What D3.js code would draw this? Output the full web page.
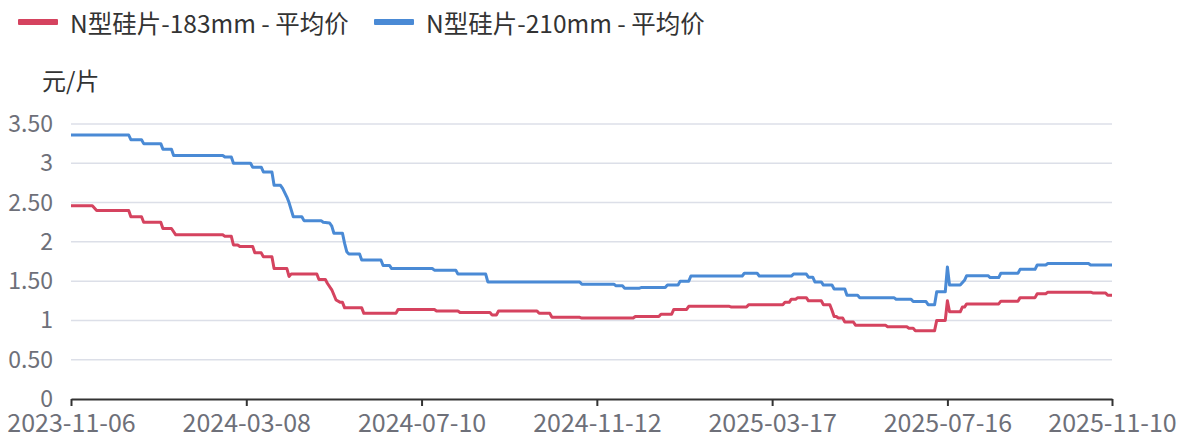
<!DOCTYPE html>
<html>
<head>
<meta charset="utf-8">
<script src="https://cdn.jsdelivr.net/npm/d3@7/dist/d3.min.js"></script>
<style>
  html, body { margin: 0; padding: 0; background: #fff; }
  svg text { font-family: "Noto Sans CJK SC", "Noto Sans", sans-serif; }
</style>
</head>
<body>
<svg id="chart" width="1186" height="441"></svg>
<script>
// ---- data ----
const seriesNames = ["N型硅片-183mm - 平均价", "N型硅片-210mm - 平均价"];
const seriesColors = ["#d5435f", "#4a8ad5"];
const yUnit = "元/片";
const lastIndex = 487;
const xTickIndex = [0, 82, 164, 246, 328, 410, 487];
const xTickLabels = ["2023-11-06", "2024-03-08", "2024-07-10", "2024-11-12", "2025-03-17", "2025-07-16", "2025-11-10"];
const yTickValues = [0, 0.5, 1, 1.5, 2, 2.5, 3, 3.5];
const yTickLabels = ["0", "0.50", "1", "1.50", "2", "2.50", "3", "3.50"];

// [trading-day index, price]
const price183 = [
  [0,2.46],[10,2.46],[12,2.40],[27,2.40],[28,2.32],[33,2.32],[34,2.25],[42,2.25],[43,2.17],[47,2.17],
  [49,2.09],[71,2.09],[72,2.07],[75,2.07],[76,1.96],[78,1.96],[79,1.94],[85,1.94],[86,1.86],[89,1.86],
  [90,1.81],[94,1.81],[95,1.66],[101,1.66],[102,1.56],[103,1.59],[115,1.59],[116,1.52],[119,1.52],[120,1.47],
  [122,1.39],[124,1.26],[126,1.23],[127,1.23],[128,1.16],[136,1.16],[137,1.09],[152,1.09],[153,1.14],[170,1.14],
  [171,1.12],[181,1.12],[182,1.10],[196,1.10],[197,1.07],[199,1.07],[200,1.12],[218,1.12],[219,1.09],[224,1.09],
  [225,1.04],[238,1.04],[239,1.03],[263,1.03],[264,1.05],[275,1.05],[276,1.08],[281,1.08],[282,1.14],[288,1.14],
  [289,1.18],[308,1.18],[309,1.17],[316,1.17],[317,1.20],[333,1.20],[334,1.23],[336,1.23],[337,1.27],[339,1.27],
  [340,1.29],[344,1.29],[345,1.25],[351,1.25],[352,1.20],[355,1.20],[356,1.13],[357,1.05],[358,1.05],[359,1.03],
  [361,1.03],[362,0.98],[366,0.98],[367,0.94],[381,0.94],[382,0.92],[391,0.92],[392,0.90],[394,0.90],[395,0.87],
  [404,0.87],[405,1.00],[409,1.00],[410,1.25],[411,1.11],[416,1.11],[417,1.17],[418,1.17],[419,1.21],[434,1.21],
  [435,1.245],[443,1.245],[444,1.29],[451,1.29],[452,1.34],[456,1.34],[457,1.36],[477,1.36],[478,1.35],[484,1.35],
  [485,1.32],[487,1.32]
];
const price210 = [
  [0,3.36],[27,3.36],[28,3.30],[33,3.30],[34,3.25],[42,3.25],[43,3.18],[47,3.18],[48,3.10],[71,3.10],
  [72,3.08],[75,3.08],[76,3.00],[84,3.00],[85,2.95],[89,2.95],[90,2.89],[94,2.89],[95,2.72],[98,2.72],
  [99,2.68],[101,2.57],[102,2.50],[104,2.32],[108,2.32],[109,2.27],[117,2.27],[118,2.25],[121,2.24],[122,2.20],
  [123,2.11],[127,2.11],[128,1.98],[129,1.875],[130,1.845],[135,1.845],[136,1.77],[145,1.77],[146,1.70],[149,1.70],
  [150,1.66],[169,1.66],[170,1.64],[180,1.64],[181,1.59],[194,1.59],[195,1.49],[238,1.49],[239,1.46],[254,1.46],
  [255,1.44],[258,1.44],[259,1.41],[266,1.41],[267,1.42],[278,1.42],[279,1.45],[284,1.45],[285,1.50],[289,1.50],
  [290,1.565],[314,1.565],[315,1.60],[321,1.60],[322,1.565],[337,1.565],[338,1.59],[344,1.59],[345,1.55],[347,1.55],
  [348,1.49],[351,1.49],[352,1.45],[356,1.45],[357,1.40],[362,1.40],[363,1.32],[368,1.32],[369,1.29],[385,1.29],
  [386,1.27],[393,1.27],[394,1.24],[400,1.24],[401,1.20],[404,1.20],[405,1.365],[409,1.365],[410,1.68],[411,1.45],
  [416,1.45],[418,1.51],[419,1.57],[429,1.57],[430,1.545],[434,1.545],[435,1.60],[443,1.60],[444,1.65],[451,1.65],
  [452,1.705],[456,1.705],[457,1.725],[476,1.725],[477,1.705],[487,1.705]
];
const seriesData = [price183, price210];

// ---- chart ----
const svg = d3.select("#chart");
const plotLeft = 71, plotRight = 1112, plotTop = 124, plotBottom = 399;
const x = d3.scaleLinear().domain([0, lastIndex]).range([plotLeft, plotRight]);
const y = d3.scaleLinear().domain([0, 3.5]).range([plotBottom, plotTop]);

// grid lines
svg.append("g").selectAll("line").data(yTickValues.filter(v => v > 0)).join("line")
  .attr("x1", plotLeft).attr("x2", plotRight)
  .attr("y1", d => y(d)).attr("y2", d => y(d))
  .attr("stroke", "#dcdfe8").attr("stroke-width", 1.5);

// y labels
svg.append("g").selectAll("text").data(yTickValues).join("text")
  .attr("x", 53).attr("y", d => y(d) - 2)
  .attr("text-anchor", "end").attr("dominant-baseline", "central")
  .attr("fill", "#6e7079").attr("font-size", 23)
  .text((d, i) => yTickLabels[i]);

// unit
svg.append("text").attr("x", 42).attr("y", 79)
  .attr("dominant-baseline", "central")
  .attr("fill", "#333").attr("font-size", 24).text(yUnit);

// x axis
const xAxis = d3.axisBottom(x).tickValues(xTickIndex)
  .tickFormat((d, i) => xTickLabels[i]).tickSize(7).tickSizeOuter(0);
const gx = svg.append("g").attr("transform", `translate(0,${plotBottom})`).call(xAxis);
gx.select(".domain").attr("stroke", "#333").attr("stroke-width", 2);
gx.selectAll(".tick line").attr("stroke", "#333").attr("stroke-width", 2);
gx.selectAll(".tick text").attr("fill", "#6e7079").attr("font-size", 25)
  .attr("font-family", "Noto Sans CJK SC").attr("y", 10).attr("dy", "0.9em");

// lines
const line = d3.line().x(d => x(d[0])).y(d => y(d[1]));
svg.append("g").selectAll("path").data(seriesData).join("path")
  .attr("d", line)
  .attr("fill", "none")
  .attr("stroke", (d, i) => seriesColors[i])
  .attr("stroke-width", 3)
  .attr("stroke-linejoin", "round");

// legend
const legendX = [18, 374];
const lg = svg.append("g").selectAll("g").data(seriesNames).join("g")
  .attr("transform", (d, i) => `translate(${legendX[i]},22)`);
lg.append("rect").attr("x", 0).attr("y", -3).attr("width", 40).attr("height", 6)
  .attr("rx", 1).attr("fill", (d, i) => seriesColors[i]);
lg.append("text").attr("x", 52).attr("y", 0).attr("dominant-baseline", "central")
  .attr("fill", "#333").attr("font-size", 24.5).text(d => d);
</script>
</body>
</html>
